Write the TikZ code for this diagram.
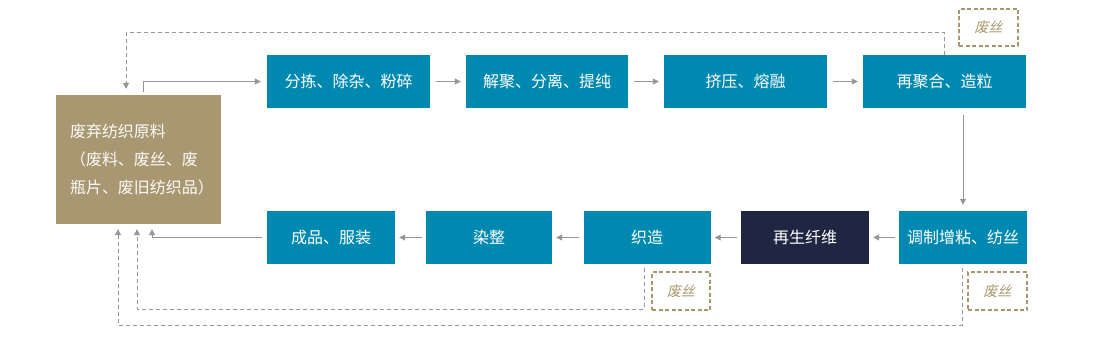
\documentclass[tikz,border=0pt]{standalone}
\usepackage{fontspec}
\newfontfamily\cjk{Noto Sans CJK SC}
\newfontfamily\cjkslant[FakeSlant=0.2]{Noto Sans CJK SC}
\usetikzlibrary{arrows.meta}
\definecolor{stepblue}{RGB}{0,137,176}
\definecolor{rawsand}{RGB}{168,151,113}
\definecolor{fibernavy}{RGB}{31,38,66}
\definecolor{linegray}{RGB}{150,150,150}
\definecolor{wastegold}{RGB}{170,150,108}
\tikzset{
	stepbox/.style={fill=stepblue, text=white, minimum height=53pt, inner sep=0pt, font=\cjk\fontsize{16}{20}\selectfont},
	rawbox/.style={fill=rawsand, text=white!96!rawsand, minimum width=165pt, minimum height=129pt, inner xsep=14pt, text width=137pt, align=left, font=\cjk\fontsize{16}{28}\selectfont},
	wastebox/.style={draw=wastegold, line width=2pt, dash pattern=on 4pt off 2.5pt, text=wastegold, inner sep=0pt, font=\cjkslant\fontsize{14}{16}\selectfont},
	flow/.style={draw=linegray, line width=1pt, -{Triangle[length=6pt,width=6pt]}},
	wasteline/.style={flow, dash pattern=on 4pt off 3pt}
}
\begin{document}
\begin{tikzpicture}[x=1pt, y=-1pt]
	\useasboundingbox (0,0) rectangle (1112,337);
	\node[rawbox] (raw) at (138.5,159.5) {废弃纺织原料\\（废料、废丝、废\\瓶片、废旧纺织品）};
	\node[stepbox, minimum width=163pt] (sort) at (348.5,81.5) {分拣、除杂、粉碎};
	\node[stepbox, minimum width=162pt] (depoly) at (547,81.5) {解聚、分离、提纯};
	\node[stepbox, minimum width=163pt] (melt) at (745.5,81.5) {挤压、熔融};
	\node[stepbox, minimum width=163pt] (repoly) at (944.5,81.5) {再聚合、造粒};
	\node[stepbox, minimum width=128pt] (spin) at (963,237.5) {调制增粘、纺丝};
	\node[stepbox, minimum width=128pt, fill=fibernavy] (fiber) at (805,237.5) {再生纤维};
	\node[stepbox, minimum width=127pt] (weave) at (647,237.5) {织造};
	\node[stepbox, minimum width=126pt] (dye) at (489,237.5) {染整};
	\node[stepbox, minimum width=128pt] (goods) at (331,237.5) {成品、服装};
	\node[wastebox, minimum width=59pt, minimum height=37pt] (waste1) at (988.5,27.5) {废丝};
	\node[wastebox, minimum width=58pt, minimum height=38pt] (waste2) at (681,291) {废丝};
	\node[wastebox, minimum width=59pt, minimum height=38pt] (waste3) at (997.5,291) {废丝};

	\draw[flow, shorten <=3pt, shorten >=6pt] ([xshift=4.5pt]raw.north) |- (sort.west);
	\foreach \a/\b in {sort/depoly, depoly/melt, melt/repoly}
		\draw[flow, shorten <=6pt, shorten >=5pt] (\a) -- (\b);
	\draw[flow, shorten <=7pt, shorten >=6pt] (repoly.south -| spin) -- (spin.north);
	\foreach \a/\b in {spin/fiber, fiber/weave, weave/dye, dye/goods}
		\draw[flow, shorten <=4pt, shorten >=4pt] (\a) -- (\b);
	\draw[flow, shorten <=5pt, shorten >=5pt] (goods.west) -| ([xshift=13.5pt]raw.south);

	\draw[wasteline, shorten >=6pt] (repoly.north) -- ++(0,-22) -| ([xshift=-12.5pt]raw.north);
	\draw[wasteline, shorten <=4pt, shorten >=5pt] ([xshift=-3pt]weave.south) -- ++(0,45) -| ([xshift=-1.5pt]raw.south);
	\draw[wasteline, shorten <=4pt, shorten >=5pt] ([xshift=-1pt]spin.south) -- ++(0,61) -| ([xshift=-20.5pt]raw.south);
\end{tikzpicture}
\end{document}
